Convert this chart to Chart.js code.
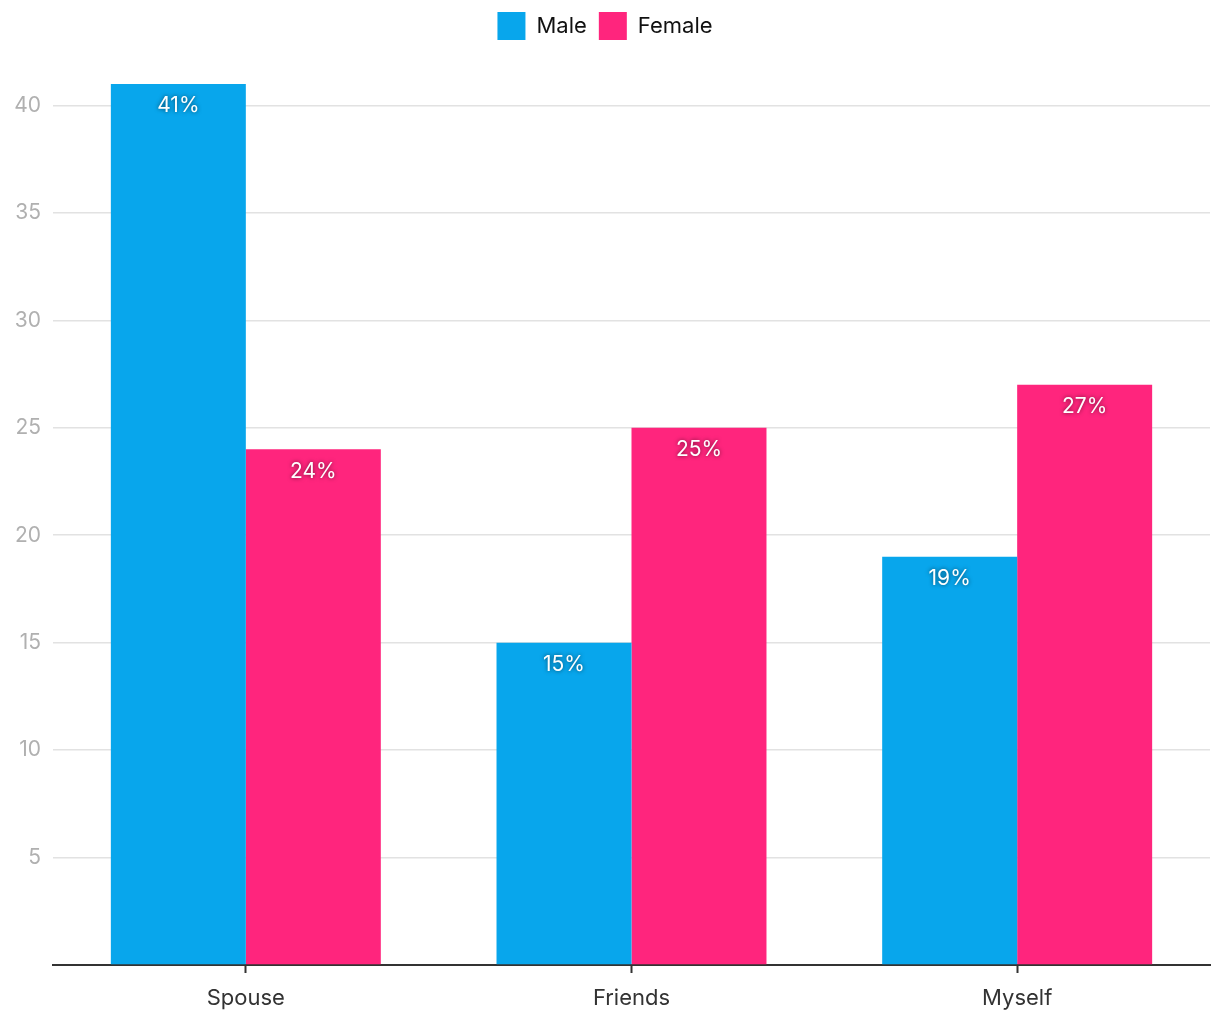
<!DOCTYPE html>
<html>
<head>
<meta charset="utf-8">
<script src="https://cdn.jsdelivr.net/npm/chart.js@4"></script>
<style>
  html, body { margin: 0; padding: 0; background: #fff; }
  #wrap { width: 1220px; height: 1020px; }
</style>
</head>
<body>
<div id="wrap"><canvas id="chart"></canvas></div>
<script>
const categories = ['Spouse', 'Friends', 'Myself'];
const maleValues = [41, 15, 19];
const femaleValues = [24, 25, 27];
const seriesNames = ['Male', 'Female'];
const yStep = 5;

const FONT = 'Inter, "Noto Sans", sans-serif';

// labels inside the top of each bar + extra space under legend
const barLabels = {
  id: 'barLabels',
  beforeLayout(chart) {
    const lg = chart.legend;
    if (lg && !lg._padded) {
      lg._padded = true;
      const fit = lg.fit;
      lg.fit = function () { fit.call(this); this.height += 34; };
    }
  },
  afterDatasetsDraw(chart) {
    const ctx = chart.ctx;
    ctx.save();
    ctx.font = '21px ' + FONT;
    ctx.textAlign = 'center';
    ctx.textBaseline = 'middle';
    ctx.fillStyle = '#fff';
    ctx.shadowColor = 'rgba(0,0,0,0.6)';
    ctx.shadowBlur = 4;
    chart.data.datasets.forEach((ds, i) => {
      chart.getDatasetMeta(i).data.forEach((bar, j) => {
        ctx.fillText(ds.data[j] + '%', bar.x, bar.y + 22);
      });
    });
    ctx.restore();
  }
};

new Chart(document.querySelector('#chart').getContext('2d'), {
  type: 'bar',
  data: {
    labels: categories,
    datasets: [
      { label: seriesNames[0], data: maleValues, backgroundColor: '#08a6ec' },
      { label: seriesNames[1], data: femaleValues, backgroundColor: '#ff257d' }
    ]
  },
  options: {
    responsive: true,
    maintainAspectRatio: false,
    animation: false,
    categoryPercentage: 0.7,
    barPercentage: 1,
    layout: { padding: { right: 10, top: 0, bottom: 0 } },
    plugins: {
      tooltip: { enabled: false },
      legend: {
        position: 'top',
        labels: {
          boxWidth: 28,
          boxHeight: 28,
          padding: 12,
          color: '#111',
          font: { family: FONT, size: 22 }
        }
      }
    },
    scales: {
      x: {
        grid: { display: true, drawOnChartArea: false, offset: false, color: '#333', tickLength: 8, tickWidth: 2 },
        border: { color: '#333', width: 2 },
        ticks: { color: '#333', font: { family: FONT, size: 22 }, padding: 12 },
        afterFit(s) { s.height = 55; }
      },
      y: {
        min: 0,
        max: Math.max(...maleValues, ...femaleValues),
        grid: { color: '#e2e2e2', lineWidth: 1.5, drawTicks: false },
        border: { display: false },
        ticks: {
          color: '#b0b0b0',
          padding: 12,
          font: { family: FONT, size: 21 },
          callback: v => (v === 0 ? '' : v)
        },
        afterBuildTicks(s) {
          const t = [];
          for (let v = 0; v <= s.max; v += yStep) t.push({ value: v });
          s.ticks = t;
        },
        afterFit(s) { s.width = 53; }
      }
    }
  },
  plugins: [barLabels]
});
</script>
</body>
</html>
